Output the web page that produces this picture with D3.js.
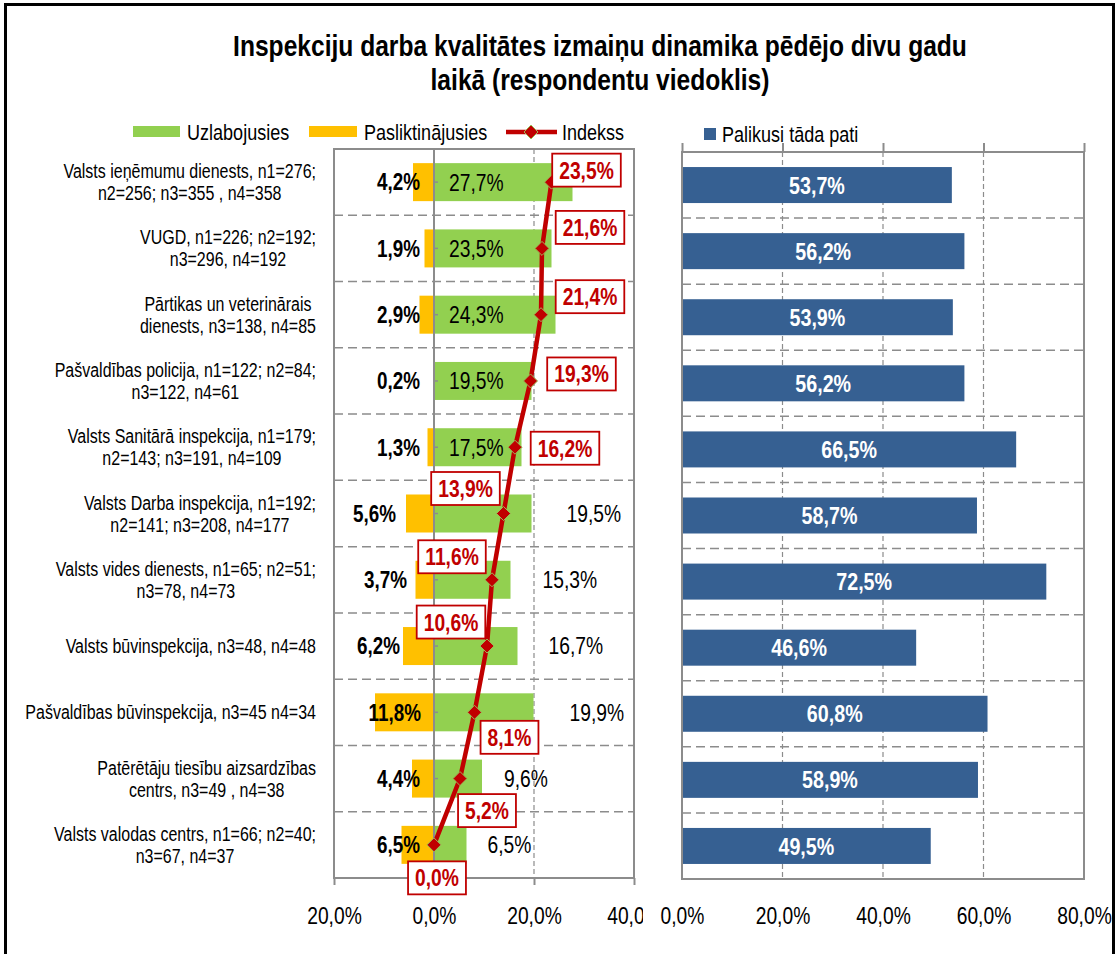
<!DOCTYPE html>
<html>
<head>
<meta charset="utf-8">
<script src="https://cdn.jsdelivr.net/npm/d3@7"></script>
<style>
  body { margin: 0; background: #fff; }
  svg { display: block; }
  text { font-family: "Liberation Sans", Arial, sans-serif; }
</style>
</head>
<body>
<div id="chart"></div>
<script>
// categories, each as one or two lines of text
const categories = [
    ["Valsts ieņēmumu dienests, n1=276;", "n2=256; n3=355 , n4=358"],
    ["VUGD, n1=226; n2=192;", "n3=296, n4=192"],
    ["Pārtikas un veterinārais", "dienests, n3=138, n4=85"],
    ["Pašvaldības policija, n1=122; n2=84;", "n3=122, n4=61"],
    ["Valsts Sanitārā inspekcija, n1=179;", "n2=143; n3=191, n4=109"],
    ["Valsts Darba inspekcija, n1=192;", "n2=141; n3=208, n4=177"],
    ["Valsts vides dienests, n1=65; n2=51;", "n3=78, n4=73"],
    ["Valsts būvinspekcija, n3=48, n4=48"],
    ["Pašvaldības būvinspekcija, n3=45 n4=34"],
    ["Patērētāju tiesību aizsardzības", "centrs, n3=49 , n4=38"],
    ["Valsts valodas centrs, n1=66; n2=40;", "n3=67, n4=37"]
];
const improved = [27.7, 23.5, 24.3, 19.5, 17.5, 19.5, 15.3, 16.7, 19.9, 9.6, 6.5];
const worsened = [4.2, 1.9, 2.9, 0.2, 1.3, 5.6, 3.7, 6.2, 11.8, 4.4, 6.5];
const indexValues = [23.5, 21.6, 21.4, 19.3, 16.2, 13.9, 11.6, 10.6, 8.1, 5.2, 0.0];
const unchanged = [53.7, 56.2, 53.9, 56.2, 66.5, 58.7, 72.5, 46.6, 60.8, 58.9, 49.5];
const leftTicks = [-20, 0, 20, 40];
const rightTicks = [0, 20, 40, 60, 80];

const seriesNames = {
    improved: "Uzlabojusies",
    worsened: "Pasliktinājusies",
    index: "Indekss",
    unchanged: "Palikusi tāda pati"
};
const titleLines = [
    "Inspekciju darba kvalitātes izmaiņu dinamika pēdējo divu gadu",
    "laikā (respondentu viedoklis)"
];

// label placement (pixels), tuned to the picture
const indexLabelOffset = [[35, -12], [48, -21], [49, -18], [51, -7], [50, 1],
    [-38, -25], [-40, -23], [-36, -24], [35, 25], [27, 32], [3, 33]];
const improvedLabelInside = [true, true, true, true, true, false, false, false, false, false, false];
const improvedLabelGap = [0, 0, 0, 0, 0, 35, 32, 31, 36, 22, 21];
const worsenedLabelEnd = [-14, -14, -14, -14, -14, -38, -27, -34, -13, -14, -14];

const width = 1118, height = 954;
const green = "#92D050", orange = "#FFC000", blue = "#366092", red = "#C00000";
const grid = "#8c8c8c";
const K = 0.82; // horizontal squeeze, stands in for a narrow face
const fmt = d => Math.abs(d).toFixed(1).replace(".", ",") + "%";
const idx = d3.range(categories.length);

// squeeze text horizontally around its anchor x
function narrow(sel) {
    sel.each(function() {
        const t = d3.select(this);
        const x = +t.attr("x") || 0;
        t.attr("transform", `translate(${x * (1 - K)},0) scale(${K},1)`);
    });
}

const svg = d3.select("#chart").append("svg")
    .attr("width", width)
    .attr("height", height);

svg.append("rect").attr("width", width).attr("height", height).attr("fill", "#fff");
svg.append("rect")
    .attr("x", 5.5).attr("y", 4.5)
    .attr("width", 1108).attr("height", 980)
    .attr("fill", "none").attr("stroke", "#000").attr("stroke-width", 3);

// title
svg.append("g").selectAll("text")
    .data(titleLines).enter()
    .append("text")
    .attr("x", 600)
    .attr("y", (d, i) => 56 + i * 34)
    .attr("text-anchor", "middle")
    .attr("font-size", 30)
    .attr("font-weight", "bold")
    .text(d => d)
    .call(narrow);

// scales
const xL = d3.scaleLinear().domain([-20, 40]).range([334, 634]);
const yL = d3.scaleBand().domain(idx).range([149, 878]);
const xR = d3.scaleLinear().domain([0, 80]).range([682, 1084]);
const yR = d3.scaleBand().domain(idx).range([152, 879]);

// ---------- left panel ----------
const left = svg.append("g");

left.append("g").selectAll("line")
    .data(idx.slice(1)).enter()
    .append("line")
    .attr("x1", xL(-20)).attr("x2", xL(40))
    .attr("y1", d => yL(d)).attr("y2", d => yL(d))
    .attr("stroke", grid).attr("stroke-width", 1.5)
    .attr("stroke-dasharray", "9,5");

left.append("line")
    .attr("x1", xL(20)).attr("x2", xL(20))
    .attr("y1", yL.range()[0]).attr("y2", yL.range()[1])
    .attr("stroke", grid).attr("stroke-width", 1.2)
    .attr("stroke-dasharray", "5,3");

const barH = 38;
left.append("g").selectAll("rect")
    .data(worsened).enter()
    .append("rect")
    .attr("x", d => xL(-d))
    .attr("y", (d, i) => yL(i) + yL.bandwidth() / 2 - barH / 2)
    .attr("width", d => xL(0) - xL(-d))
    .attr("height", barH)
    .attr("fill", orange);

left.append("g").selectAll("rect")
    .data(improved).enter()
    .append("rect")
    .attr("x", xL(0))
    .attr("y", (d, i) => yL(i) + yL.bandwidth() / 2 - barH / 2)
    .attr("width", d => xL(d) - xL(0))
    .attr("height", barH)
    .attr("fill", green);

// zero axis with category ticks
left.append("line")
    .attr("x1", xL(0)).attr("x2", xL(0))
    .attr("y1", yL.range()[0]).attr("y2", yL.range()[1])
    .attr("stroke", grid).attr("stroke-width", 2);
left.append("g").selectAll("line")
    .data(idx).enter()
    .append("line")
    .attr("x1", xL(0)).attr("x2", xL(0) + 4)
    .attr("y1", d => yL(d) + yL.bandwidth() / 2)
    .attr("y2", d => yL(d) + yL.bandwidth() / 2)
    .attr("stroke", grid).attr("stroke-width", 1.5);

// frame
left.append("rect")
    .attr("x", xL(-20)).attr("y", yL.range()[0])
    .attr("width", xL(40) - xL(-20)).attr("height", yL.range()[1] - yL.range()[0])
    .attr("fill", "none").attr("stroke", grid).attr("stroke-width", 2);

// bottom axis
svg.append("clipPath").attr("id", "clipL")
    .append("rect").attr("x", 0).attr("y", 0).attr("width", 643).attr("height", height);
const axL = left.append("g")
    .attr("transform", `translate(0,${yL.range()[1]})`)
    .attr("clip-path", "url(#clipL)")
    .call(d3.axisBottom(xL).tickValues(leftTicks).tickFormat(fmt).tickSize(7).tickPadding(22));
axL.select(".domain").remove();
axL.selectAll("line").attr("stroke", grid).attr("stroke-width", 2);
axL.selectAll("text").attr("font-size", 23.5).attr("fill", "#000")
    .style("font-family", "'Liberation Sans', Arial, sans-serif")
    .call(narrow);

// bar labels
left.append("g").selectAll("text")
    .data(improved).enter()
    .append("text")
    .attr("x", (d, i) => improvedLabelInside[i] ? xL(0) + 15 : xL(d) + improvedLabelGap[i])
    .attr("y", (d, i) => yL(i) + yL.bandwidth() / 2)
    .attr("dy", "0.36em")
    .attr("font-size", 23.5)
    .text(fmt)
    .call(narrow);

left.append("g").selectAll("text")
    .data(worsened).enter()
    .append("text")
    .attr("x", (d, i) => xL(0) + worsenedLabelEnd[i])
    .attr("y", (d, i) => yL(i) + yL.bandwidth() / 2)
    .attr("dy", "0.36em")
    .attr("text-anchor", "end")
    .attr("font-size", 23)
    .attr("font-weight", "bold")
    .text(fmt)
    .call(narrow);

// index line
const line = d3.line()
    .x(d => xL(d))
    .y((d, i) => yL(i) + yL.bandwidth() / 2);
left.append("path")
    .datum(indexValues)
    .attr("d", line)
    .attr("fill", "none")
    .attr("stroke", red)
    .attr("stroke-width", 4.5);

const diamond = "M0,-7L7,0L0,7L-7,0Z";
left.append("g").selectAll("path")
    .data(indexValues).enter()
    .append("path")
    .attr("d", diamond)
    .attr("transform", (d, i) => `translate(${xL(d)},${yL(i) + yL.bandwidth() / 2})`)
    .attr("fill", red)
    .attr("stroke", "#9BBB59")
    .attr("stroke-width", 1);

const idxLabels = left.append("g").selectAll("g")
    .data(indexValues).enter()
    .append("g")
    .attr("transform", (d, i) => `translate(${xL(d) + indexLabelOffset[i][0]},${yL(i) + yL.bandwidth() / 2 + indexLabelOffset[i][1]})`);
idxLabels.append("rect")
    .attr("fill", "#fff").attr("stroke", red).attr("stroke-width", 1.8);
idxLabels.append("text")
    .attr("text-anchor", "middle")
    .attr("dy", "0.36em")
    .attr("font-size", 23.5)
    .attr("font-weight", "bold")
    .attr("fill", red)
    .text(fmt)
    .call(narrow);
idxLabels.each(function() {
    const g = d3.select(this);
    const w = g.select("text").node().getComputedTextLength() * K;
    g.select("rect")
        .attr("x", -w / 2 - 7).attr("y", -16.5)
        .attr("width", w + 14).attr("height", 33);
});

// category labels, lines centered, block right-aligned
const cats = svg.append("g").selectAll("g")
    .data(categories).enter()
    .append("g");
cats.each(function(lines, i) {
    const g = d3.select(this);
    const cy = yL(i) + yL.bandwidth() / 2;
    const t = g.selectAll("text")
        .data(lines).enter()
        .append("text")
        .attr("y", (d, k) => cy + (k - (lines.length - 1) / 2) * 22)
        .attr("dy", "0.36em")
        .attr("font-size", 19.5)
        .attr("text-anchor", "middle")
        .text(d => d);
    let maxW = 0;
    t.each(function() { maxW = Math.max(maxW, this.getComputedTextLength() * K); });
    t.attr("x", 316 - maxW / 2).call(narrow);
});

// ---------- right panel ----------
const right = svg.append("g");

right.append("g").selectAll("line")
    .data(idx.slice(1)).enter()
    .append("line")
    .attr("x1", xR(0)).attr("x2", xR(80))
    .attr("y1", d => yR(d)).attr("y2", d => yR(d))
    .attr("stroke", grid).attr("stroke-width", 1.5)
    .attr("stroke-dasharray", "9,5");

right.append("g").selectAll("line")
    .data(rightTicks.slice(1, -1)).enter()
    .append("line")
    .attr("x1", d => xR(d)).attr("x2", d => xR(d))
    .attr("y1", yR.range()[0]).attr("y2", yR.range()[1])
    .attr("stroke", grid).attr("stroke-width", 1.2)
    .attr("stroke-dasharray", "5,3");

right.append("g").selectAll("rect")
    .data(unchanged).enter()
    .append("rect")
    .attr("x", xR(0))
    .attr("y", (d, i) => yR(i) + yR.bandwidth() / 2 - 18)
    .attr("width", d => xR(d) - xR(0))
    .attr("height", 36)
    .attr("fill", blue);

right.append("g").selectAll("text")
    .data(unchanged).enter()
    .append("text")
    .attr("x", d => (xR(0) + xR(d)) / 2)
    .attr("y", (d, i) => yR(i) + yR.bandwidth() / 2)
    .attr("dy", "0.36em")
    .attr("text-anchor", "middle")
    .attr("font-size", 24)
    .attr("font-weight", "bold")
    .attr("fill", "#fff")
    .text(fmt)
    .call(narrow);

right.append("rect")
    .attr("x", xR(0)).attr("y", yR.range()[0])
    .attr("width", xR(80) - xR(0)).attr("height", yR.range()[1] - yR.range()[0])
    .attr("fill", "none").attr("stroke", grid).attr("stroke-width", 2);

const axTop = right.append("g")
    .attr("transform", `translate(0,${yR.range()[0]})`)
    .call(d3.axisTop(xR).tickValues(rightTicks).tickFormat("").tickSize(9));
axTop.select(".domain").remove();
axTop.selectAll("line").attr("stroke", grid).attr("stroke-width", 2);

const axR = right.append("g")
    .attr("transform", `translate(0,${yR.range()[1]})`)
    .call(d3.axisBottom(xR).tickValues(rightTicks).tickFormat(fmt).tickSize(0).tickPadding(28));
axR.select(".domain").remove();
axR.selectAll("text").attr("font-size", 23.5).attr("fill", "#000")
    .style("font-family", "'Liberation Sans', Arial, sans-serif")
    .call(narrow);

// ---------- legend ----------
const legend = svg.append("g").attr("font-size", 22);
legend.append("rect").attr("x", 133).attr("y", 126).attr("width", 47).attr("height", 11).attr("fill", green);
legend.append("text").attr("x", 187).attr("y", 132).attr("dy", "0.36em").text(seriesNames.improved);
legend.append("rect").attr("x", 309).attr("y", 126).attr("width", 48).attr("height", 11).attr("fill", orange);
legend.append("text").attr("x", 364).attr("y", 132).attr("dy", "0.36em").text(seriesNames.worsened);
legend.append("line").attr("x1", 506).attr("x2", 557).attr("y1", 132).attr("y2", 132)
    .attr("stroke", red).attr("stroke-width", 4.5);
legend.append("path").attr("d", diamond).attr("transform", "translate(531,132)")
    .attr("fill", red).attr("stroke", "#9BBB59").attr("stroke-width", 1);
legend.append("text").attr("x", 562).attr("y", 132).attr("dy", "0.36em").text(seriesNames.index);
legend.append("rect").attr("x", 704).attr("y", 128).attr("width", 12).attr("height", 12).attr("fill", blue);
legend.append("text").attr("x", 722).attr("y", 134).attr("dy", "0.36em").text(seriesNames.unchanged);
legend.selectAll("text").call(narrow);
</script>
</body>
</html>
